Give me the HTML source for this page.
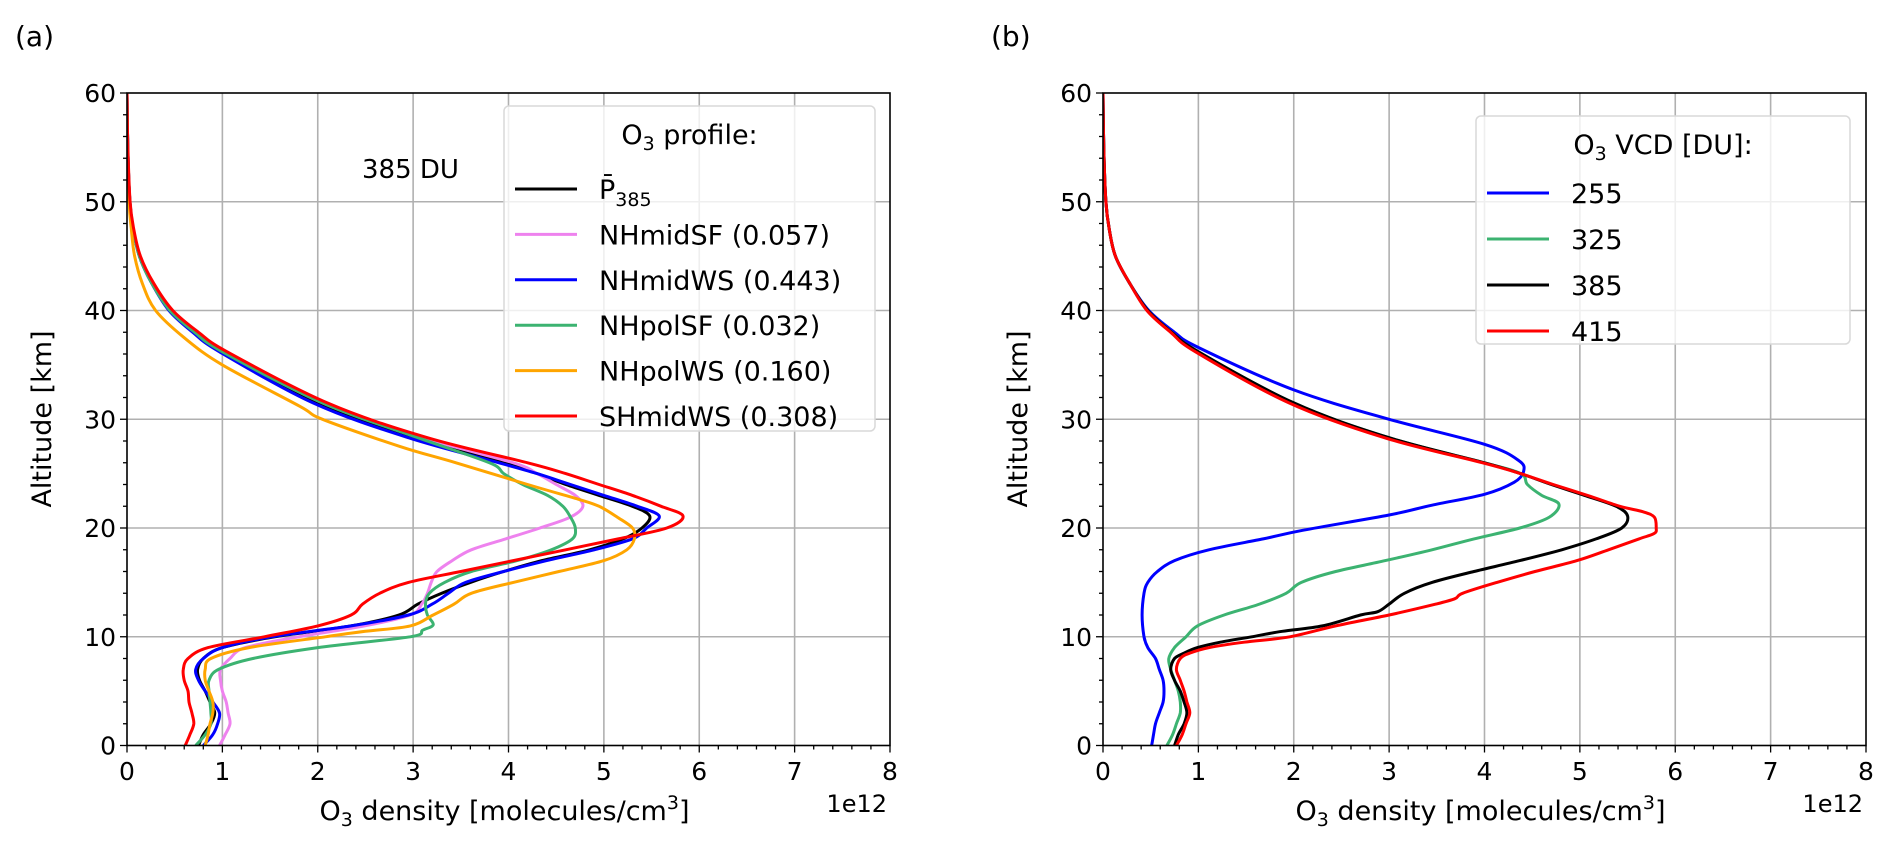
<!DOCTYPE html>
<html><head><meta charset="utf-8"><title>O3 profiles</title>
<style>
html,body{margin:0;padding:0;background:#fff;}
svg{display:block;font-family:"DejaVu Sans","Liberation Sans",sans-serif;}
</style></head>
<body>
<svg id="fig" width="1892" height="849" viewBox="0 0 1892 849" xmlns="http://www.w3.org/2000/svg"></svg>
<script>
// ---------- Panel (a) data ----------
const altBlackA = [0,1,2,3,4,5,6,7,8,9,10,11,12,13,14,15,16,17,18,19,20,21.1,22,23,24,25,26,28.3,31.5,36.2,38,40,42.5,45,47.5,50,55,60];
const valBlackA = [0.75,0.8,0.88,0.92,0.87,0.82,0.76,0.74,0.8,1.0,1.55,2.35,2.85,3.05,3.3,3.6,3.95,4.35,4.85,5.2,5.4,5.48,5.3,4.95,4.6,4.3,3.95,3.0,2.0,1.0,0.7,0.45,0.26,0.13,0.065,0.03,0.008,0];
const altVioletA = [0,1,2,3,4,5,6,7,8,9,10,11,12,13,14,15,16,17,18,19,20,21,22,23,24,25,26,28.3,31.5,36.2,38,40,42.5,45,47.5,50,55,60];
const valVioletA = [0.97,1.03,1.08,1.06,1.04,1.0,0.98,0.98,1.08,1.24,1.8,2.49,2.97,3.09,3.15,3.19,3.25,3.41,3.61,3.97,4.33,4.65,4.78,4.7,4.5,4.3,4.05,3.1,2.05,1.02,0.72,0.46,0.27,0.13,0.065,0.03,0.008,0];
const altBlueA = [0,1,2,3,4,5,6,7,8,9,10,11,12,13,14,15,16,17,18,19,20,21.1,22,23,24,25,26,28.3,31.5,36.2,38,40,42.5,45,47.5,50,55,60];
const valBlueA = [0.8,0.9,0.95,0.97,0.9,0.82,0.75,0.72,0.8,1.0,1.52,2.35,2.95,3.2,3.37,3.55,3.95,4.4,4.9,5.3,5.45,5.58,5.35,5.0,4.65,4.3,3.9,2.95,1.95,0.97,0.69,0.44,0.26,0.13,0.065,0.03,0.008,0];
const altGreenA = [0,1,2,3,4,5,6,7,8,9,10,10.6,11.1,12,13,14,15,16,17,18,19,20,21,22,23,24,25,26,28.3,31.5,36.2,38,40,42.5,45,47.5,50,55,60];
const valGreenA = [0.72,0.82,0.88,0.88,0.87,0.86,0.86,0.96,1.32,2.0,2.97,3.1,3.21,3.15,3.13,3.17,3.33,3.61,4.09,4.45,4.67,4.7,4.65,4.57,4.41,4.15,3.95,3.8,3.05,2.05,1.0,0.71,0.45,0.26,0.13,0.065,0.03,0.008,0];
const altOrangeA = [0,1,2,3,4,5,6,7,8,9,10,10.5,11,12,13,14,15,16,17,18,19,20,21,22,22.6,24,26,27.5,30,31.2,35,37.5,40,42.5,45,47.5,50,55,60];
const valOrangeA = [0.82,0.85,0.87,0.9,0.9,0.86,0.82,0.82,0.88,1.28,2.08,2.5,2.97,3.21,3.43,3.61,4.05,4.53,5.0,5.24,5.32,5.3,5.14,4.95,4.75,4.2,3.45,2.86,2.05,1.81,1.0,0.6,0.3,0.16,0.08,0.045,0.022,0.006,0];
const altRedA = [0,1,2,3,4,5,6,7,8,9,10,11,12,13,14,15,16,17,18,19,20,21.1,22,23,24,25,26,28.3,31.5,36.2,38,40,42.5,45,47.5,50,55,60];
const valRedA = [0.61,0.66,0.7,0.68,0.65,0.64,0.6,0.59,0.64,0.85,1.44,2.0,2.35,2.47,2.65,2.95,3.5,4.05,4.6,5.15,5.66,5.83,5.6,5.3,4.95,4.6,4.2,3.15,2.1,1.05,0.75,0.48,0.28,0.14,0.07,0.032,0.009,0];

// ---------- Panel (b) data ----------
const altBlueB = [0,1,2,3,4,5,6,7,8,9,10,12,14,15,16,17,18,19,19.8,21.2,22.1,23.1,24.2,25.2,26.2,27.7,30,32.7,36.6,38,40,42.5,45,47.5,50,55,60];
const valBlueB = [0.51,0.53,0.55,0.59,0.63,0.64,0.63,0.59,0.55,0.47,0.43,0.41,0.43,0.47,0.57,0.75,1.11,1.68,2.1,3.0,3.45,4.0,4.31,4.41,4.36,4.0,3.0,2.0,1.0,0.75,0.48,0.28,0.13,0.065,0.03,0.008,0];
const altGreenB = [0,1,2,3,4,5,6,7,8,9,10,11,12,13,14,15,16,17,18,19,20,21,22.2,23,24,25,26,28.3,31.5,36.2,38,40,42.5,45,47.5,50,55,60];
const valGreenB = [0.67,0.73,0.77,0.81,0.81,0.79,0.75,0.71,0.69,0.75,0.87,0.99,1.27,1.64,1.92,2.08,2.44,2.96,3.45,3.89,4.37,4.68,4.78,4.6,4.45,4.38,4.0,3.0,2.0,1.0,0.72,0.47,0.28,0.13,0.065,0.03,0.008,0];
const altBlackB = [0,1,2,3,4,5,6,7,8,8.5,9,9.5,10,10.5,11,12,12.3,13,14,15,16,17,18,19,20,21.1,22,23,24,25,26,28.3,31.5,36.2,38,40,42.5,45,47.5,50,55,60];
const valBlackB = [0.75,0.79,0.85,0.88,0.85,0.81,0.75,0.71,0.75,0.85,0.99,1.23,1.56,1.88,2.3,2.7,2.88,3.0,3.16,3.45,3.89,4.37,4.81,5.17,5.44,5.5,5.38,5.05,4.7,4.38,4.0,3.0,2.0,1.0,0.72,0.47,0.28,0.13,0.065,0.03,0.008,0];
const altRedB = [0,1,2,3,4,5,6,7,8,8.5,9,9.5,10,11,12,13,13.5,14,15,16,17,18,19,19.5,20,21,21.5,22,23,24,25,26,28.3,31.5,36.2,38,40,42.5,45,47.5,50,55,60];
const valRedB = [0.77,0.83,0.87,0.91,0.88,0.85,0.81,0.77,0.81,0.91,1.11,1.48,1.96,2.44,3.0,3.49,3.69,3.77,4.13,4.53,4.97,5.3,5.62,5.78,5.8,5.78,5.66,5.42,5.08,4.72,4.38,3.98,2.95,1.95,0.97,0.71,0.46,0.28,0.13,0.065,0.03,0.008,0];

const xTicks = [0,1,2,3,4,5,6,7,8];
const yTicks = [0,10,20,30,40,50,60];

const NS = "http://www.w3.org/2000/svg";
const svg = document.getElementById('fig');
function mk(tag, attrs, parent){
  const e = document.createElementNS(NS, tag);
  for (const k in attrs) e.setAttribute(k, attrs[k]);
  (parent||svg).appendChild(e);
  return e;
}
function smoothPath(p){
  let d = 'M' + p[0][0].toFixed(1) + ',' + p[0][1].toFixed(1);
  for (let i=0;i<p.length-1;i++){
    const p0=p[Math.max(0,i-1)], p1=p[i], p2=p[i+1], p3=p[Math.min(p.length-1,i+2)];
    const c1x=p1[0]+(p2[0]-p0[0])/6, c1y=p1[1]+(p2[1]-p0[1])/6;
    const c2x=p2[0]-(p3[0]-p1[0])/6, c2y=p2[1]-(p3[1]-p1[1])/6;
    d += ' C'+c1x.toFixed(1)+','+c1y.toFixed(1)+' '+c2x.toFixed(1)+','+c2y.toFixed(1)+' '+p2[0].toFixed(1)+','+p2[1].toFixed(1);
  }
  return d;
}

function makeAxes(cfg){
  const g = mk('g', {});
  
  
  const X0=cfg.x0, X1=cfg.x1, Y0=745.5, Y1=93;
  const sx = v => X0 + (X1-X0)*v/8;
  const sy = a => Y0 - (Y0-Y1)*a/60;
  const grid = mk('g', {}, g);
  
  
  xTicks.forEach(t => { if (t>0 && t<8) mk('line',{x1:sx(t),x2:sx(t),y1:Y1,y2:Y0,stroke:'#b0b0b0','stroke-width':1.6},grid); });
  yTicks.forEach(t => { if (t>0 && t<60) mk('line',{x1:X0,x2:X1,y1:sy(t),y2:sy(t),stroke:'#b0b0b0','stroke-width':1.6},grid); });
  const clipId = 'clip-' + cfg.name;
  const cp = mk('clipPath',{id:clipId},g);
  mk('rect',{x:X0,y:Y1,width:X1-X0,height:Y0-Y1},cp);
  cfg.series.forEach(s => {
    const pts = s.alt.map((a,i) => [sx(s.val[i]), sy(a)]);
    const p = mk('path',{d:smoothPath(pts),fill:'none',stroke:s.color,'stroke-width':3,'stroke-linejoin':'round','clip-path':'url(#'+clipId+')'},g);
    
    
  });
  mk('rect',{x:X0,y:Y1,width:X1-X0,height:Y0-Y1,fill:'none',stroke:'#000','stroke-width':1.6},g);
  for (let i=0;i<=40;i++){ const v=i*0.2; const len = (i%5===0)?7:4;
    mk('line',{x1:sx(v),x2:sx(v),y1:Y0,y2:Y0+len,stroke:'#000','stroke-width':1.3},g); }
  for (let a=0;a<=60;a+=2){ const len=(a%10===0)?7:4;
    mk('line',{x1:X0-len,x2:X0,y1:sy(a),y2:sy(a),stroke:'#000','stroke-width':1.3},g); }
  xTicks.forEach(t => { const tx = mk('text',{x:sx(t),y:780,'font-size':25,'text-anchor':'middle',fill:'#000'},g); tx.textContent=t;
      });
  yTicks.forEach(t => { const tx = mk('text',{x:X0-11,y:sy(t)+9,'font-size':25,'text-anchor':'end',fill:'#000'},g); tx.textContent=t;
      });
  const yl = mk('text',{x:0,y:0,'font-size':27,'text-anchor':'middle',transform:`translate(${X0-76},419) rotate(-90)`},g);
  yl.textContent='Altitude [km]';
   
  const xl = mk('text',{x:(X0+X1)/2-4,y:820,'font-size':27,'text-anchor':'middle'},g);
  xl.innerHTML='O<tspan font-size="19" dy="6">3</tspan><tspan dy="-6"> density [molecules/cm</tspan><tspan font-size="19" dy="-11">3</tspan><tspan dy="11">]</tspan>';
   
  const off = mk('text',{x:X1-3,y:812,'font-size':24,'text-anchor':'end'},g);
  off.textContent='1e12';
   
  const pl = mk('text',{x:cfg.labelX,y:46,'font-size':28},g);
  pl.textContent=cfg.label;
   
  const L = cfg.legend;
  const lg = mk('g',{},g);
   
  mk('rect',{x:L.x,y:L.y,width:L.w,height:L.h,rx:5,fill:'rgba(255,255,255,0.8)',stroke:'#d9d9d9','stroke-width':1.5},lg);
  const tt = mk('text',{x:L.x+L.w/2,y:L.titleY,'font-size':27,'text-anchor':'middle'},lg);
  tt.innerHTML = L.title;
   
  cfg.series.forEach((s,i) => {
    const ey = L.row0 + i*L.dy;
    const e = mk('g',{},lg);
     
    mk('line',{x1:L.x+11,x2:L.x+73,y1:ey,y2:ey,stroke:s.color,'stroke-width':3},e);
    const t = mk('text',{x:L.x+95,y:ey+10,'font-size':27},e);
    t.innerHTML = s.label;
  });
}

makeAxes({name:'panel-a', x0:127, x1:890, label:'(a)', labelX:15,
  series:[
    {id:'line-p385', alt:altBlackA, val:valBlackA, color:'#000000', label:'P\u0304<tspan font-size="19" dy="7">385</tspan>'},
    {id:'line-nhmidsf', alt:altVioletA, val:valVioletA, color:'#ee82ee', label:'NHmidSF (0.057)'},
    {id:'line-nhmidws', alt:altBlueA, val:valBlueA, color:'#0000ff', label:'NHmidWS (0.443)'},
    {id:'line-nhpolsf', alt:altGreenA, val:valGreenA, color:'#3cb371', label:'NHpolSF (0.032)'},
    {id:'line-nhpolws', alt:altOrangeA, val:valOrangeA, color:'#ffa500', label:'NHpolWS (0.160)'},
    {id:'line-shmidws', alt:altRedA, val:valRedA, color:'#ff0000', label:'SHmidWS (0.308)'}
  ],
  legend:{x:504,y:106,w:371,h:325,title:'O<tspan font-size="19" dy="6">3</tspan><tspan dy="-6"> profile:</tspan>',titleY:144,row0:189,dy:45.4}
});
makeAxes({name:'panel-b', x0:1103, x1:1866, label:'(b)', labelX:991,
  series:[
    {id:'line-255', alt:altBlueB, val:valBlueB, color:'#0000ff', label:'255'},
    {id:'line-325', alt:altGreenB, val:valGreenB, color:'#3cb371', label:'325'},
    {id:'line-385', alt:altBlackB, val:valBlackB, color:'#000000', label:'385'},
    {id:'line-415', alt:altRedB, val:valRedB, color:'#ff0000', label:'415'}
  ],
  legend:{x:1476,y:116,w:374,h:228,title:'O<tspan font-size="19" dy="6">3</tspan><tspan dy="-6"> VCD [DU]:</tspan>',titleY:154,row0:193,dy:46}
});
const du = mk('text',{x:362,y:178,'font-size':26});
du.textContent='385 DU';


</script>
</body></html>
